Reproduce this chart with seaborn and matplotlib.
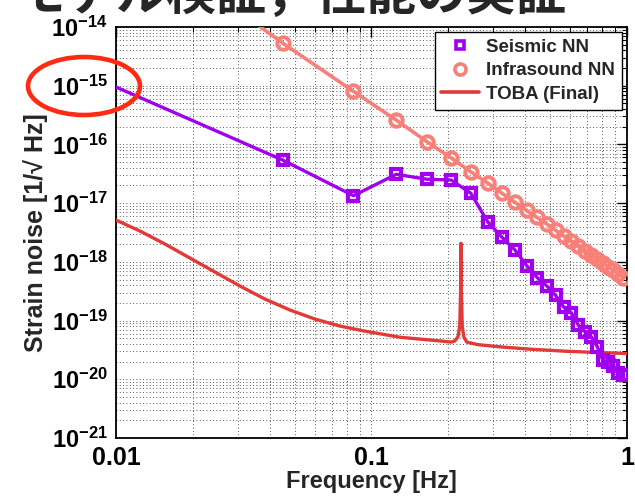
import matplotlib
matplotlib.use("Agg")
import matplotlib.pyplot as plt
import numpy as np
import pandas as pd
import seaborn as sns
from matplotlib.lines import Line2D
from matplotlib.patches import Ellipse
from matplotlib.ticker import LogLocator, FuncFormatter, NullFormatter, FixedLocator

# ---------------- data ----------------
f_markers = [0.045, 0.085, 0.125, 0.165, 0.205, 0.245, 0.285, 0.325, 0.365, 0.405,
             0.445, 0.485, 0.525, 0.565, 0.605, 0.645, 0.685, 0.725, 0.765, 0.805,
             0.845, 0.885, 0.925, 0.965]

seismic_start_f = 0.01
seismic_start_v = 9.5e-16
seismic_nn = [5.4e-17, 1.34e-17, 3.1e-17, 2.55e-17, 2.48e-17, 1.47e-17, 4.8e-18, 2.6e-18,
              1.58e-18, 8.6e-19, 5.4e-19, 3.9e-19, 2.7e-19, 1.7e-19, 1.36e-19, 8.4e-20,
              6.45e-20, 5.3e-20, 3.6e-20, 2.1e-20, 1.95e-20, 1.66e-20, 1.3e-20, 1.17e-20]

infra_start_f = 0.036
infra_start_v = 1.07e-14
infrasound_nn = [5.3e-15, 8.0e-16, 2.6e-16, 1.11e-16, 5.9e-17, 3.4e-17, 2.2e-17, 1.46e-17,
                 1.03e-17, 7.5e-18, 5.7e-18, 4.4e-18, 3.45e-18, 2.75e-18, 2.25e-18, 1.86e-18,
                 1.56e-18, 1.31e-18, 1.12e-18, 9.6e-19, 8.3e-19, 7.2e-19, 6.3e-19, 5.4e-19]

toba_f = [0.01, 0.01241, 0.01555, 0.01948, 0.02441, 0.03058, 0.03831, 0.0480, 0.0601,
          0.0753, 0.0943, 0.1293, 0.1854, 0.205, 0.212, 0.218, 0.2215, 0.2232, 0.2240,
          0.2248, 0.2265, 0.23, 0.236, 0.26, 0.318, 0.42, 0.58, 0.78, 1.0]
toba_final = [5.15e-18, 3.35e-18, 2.01e-18, 1.16e-18, 6.7e-19, 3.87e-19, 2.32e-19, 1.51e-19,
              1.06e-19, 8.05e-20, 6.6e-20, 5.2e-20, 4.5e-20, 4.3e-20, 4.5e-20, 5.3e-20,
              8.0e-20, 3.0e-19, 2.07e-18, 3.0e-19, 8.0e-20, 5.2e-20, 4.3e-20, 3.9e-20,
              3.57e-20, 3.25e-20, 3.0e-20, 2.85e-20, 2.75e-20]

labels = ["Seismic NN", "Infrasound NN", "TOBA (Final)"]
x_tick_vals = [0.01, 0.1, 1]
x_tick_labels = ["0.01", "0.1", "1"]
title_text = "モデル検証，性能の実証"

# ---------------- styling ----------------
sns.set_style("white")
plt.rcParams["font.family"] = ["Liberation Sans", "DejaVu Sans"]
plt.rcParams["font.weight"] = "bold"
plt.rcParams["mathtext.fontset"] = "custom"
plt.rcParams["mathtext.rm"] = "Liberation Sans:bold"
plt.rcParams["mathtext.bf"] = "Liberation Sans:bold"
plt.rcParams["mathtext.it"] = "Liberation Sans:bold:italic"
plt.rcParams["mathtext.sf"] = "Liberation Sans:bold"

c_seis = "#A000EE"
c_infra = "#F88078"
c_toba = "#E23A36"

fig = plt.figure(figsize=(6.35, 4.96), dpi=100)
ax = fig.add_axes([116/635, 1-438/496, 511/635, 411/496])

df_toba = pd.DataFrame({"f": toba_f, "v": toba_final})
df_seis = pd.DataFrame({"f": [seismic_start_f] + f_markers, "v": [seismic_start_v] + seismic_nn})
df_inf = pd.DataFrame({"f": [infra_start_f] + f_markers, "v": [infra_start_v] + infrasound_nn})

sns.lineplot(data=df_toba, x="f", y="v", ax=ax, color=c_toba, lw=2.4,
             estimator=None, sort=False, solid_joinstyle="round", zorder=3)
sns.lineplot(data=df_seis, x="f", y="v", ax=ax, color=c_seis, lw=2.4,
             estimator=None, sort=False, marker="s", markersize=7.5,
             markerfacecolor="none", markeredgecolor=c_seis, markeredgewidth=3.0,
             markevery=list(range(1, len(df_seis))), zorder=4)
sns.lineplot(data=df_inf, x="f", y="v", ax=ax, color=c_infra, lw=2.6,
             estimator=None, sort=False, marker="o", markersize=9,
             markerfacecolor="none", markeredgecolor=c_infra, markeredgewidth=2.8,
             markevery=list(range(1, len(df_inf))), zorder=4, clip_on=True)

ax.set_xscale("log")
ax.set_yscale("log")
ax.set_xlim(0.01, 1)
ax.set_ylim(1e-21, 1e-14)

ax.yaxis.set_major_locator(LogLocator(base=10, numticks=20))
ax.yaxis.set_minor_locator(LogLocator(base=10, subs=np.arange(2, 10), numticks=20))
ax.yaxis.set_major_formatter(FuncFormatter(lambda v, p: r"$\mathbf{10^{%d}}$" % int(round(np.log10(v)))))
ax.yaxis.set_minor_formatter(NullFormatter())
ax.xaxis.set_major_locator(FixedLocator(x_tick_vals))
ax.set_xticklabels(x_tick_labels)
ax.xaxis.set_minor_locator(LogLocator(base=10, subs=np.arange(2, 10), numticks=20))
ax.xaxis.set_minor_formatter(NullFormatter())

ax.tick_params(which="both", direction="in", top=True, right=True, colors="black")
ax.tick_params(which="major", length=7, width=1.0, labelsize=17, pad=6)
ax.tick_params(which="minor", length=3.5, width=0.8)
for lab in ax.get_xticklabels():
    lab.set_fontweight("bold")
    lab.set_fontsize(18)

ax.grid(True, which="both", color="#222222", linestyle=(0, (1, 3)), linewidth=0.6)
for s in ax.spines.values():
    s.set_visible(True)
    s.set_color("black")
    s.set_linewidth(1.3)

ax.set_xlabel("Frequency [Hz]", fontsize=17, fontweight="bold", labelpad=0)
ax.set_ylabel("Strain noise [1/√ Hz]", fontsize=18, fontweight="bold", labelpad=2)

handles = [
    Line2D([], [], color=c_seis, marker="s", ls="none", ms=6, mfc="none", mew=2.6),
    Line2D([], [], color=c_infra, marker="o", ls="none", ms=8, mfc="none", mew=2.6),
    Line2D([], [], color=c_toba, lw=2.6),
]
leg = ax.legend(handles, labels, loc="upper right", bbox_to_anchor=(0.990, 0.988),
                borderaxespad=0, fancybox=False, framealpha=1, edgecolor="black",
                prop={"weight": "bold", "size": 13.5}, handlelength=2.0,
                handletextpad=0.4, borderpad=0.35, labelspacing=0.35)
leg.get_frame().set_linewidth(1.0)

# red ellipse annotation around the 1e-15 label
ell = Ellipse((84/635, 1-86/496), 112/635, 58/496, transform=fig.transFigure,
              fill=False, edgecolor="#FF2A12", linewidth=3.3, zorder=10)
fig.patches.append(ell)

# cut-off slide title above
fig.text(17/635, 1-10/496, title_text, fontsize=36, fontweight="bold",
         family=["Noto Sans CJK JP", "DejaVu Sans"], va="baseline", ha="left")

fig.savefig("out.png", dpi=100)
